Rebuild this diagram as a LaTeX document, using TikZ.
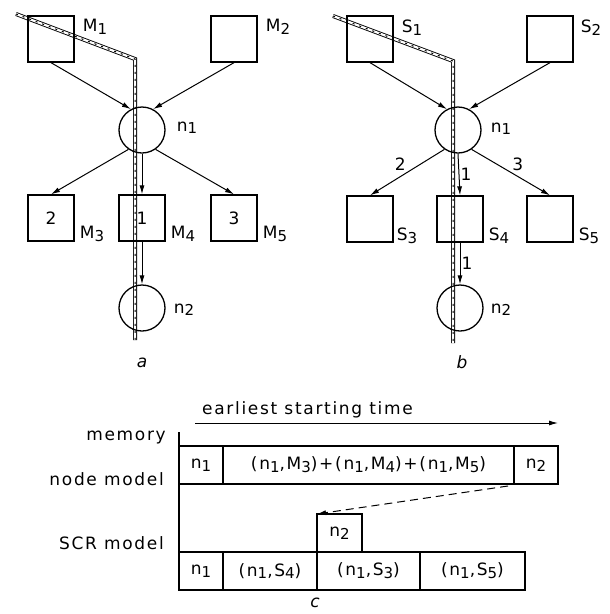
\documentclass[tikz,border=0pt]{standalone}
\usepackage{fontspec}
\setmainfont[LetterSpace=10]{DejaVu Sans}
\usetikzlibrary{arrows.meta, positioning, calc}
\newcommand{\ix}[1]{\raisebox{-0.3ex}{\fontsize{15}{15}\selectfont #1}}

\begin{document}
\begin{tikzpicture}[
    x=1pt, y=-1pt,
    every node/.style={font=\fontsize{17}{20}\selectfont},
    store/.style={draw, line width=1.3pt, minimum size=46pt, inner sep=0pt},
    task/.style={draw, circle, line width=1.3pt, minimum size=46pt, inner sep=0pt},
    tag/.style={anchor=base west, inner sep=0pt},
    plain/.style={inner sep=0pt},
    link/.style={-{Latex[length=9pt, width=5pt]}, line width=1pt},
    crit/.style={double, double distance=2.2pt, line width=0.9pt},
    critdash/.style={line width=1pt, dash pattern=on 2pt off 5pt},
    cell/.style={draw, line width=1.3pt, minimum height=38pt, inner sep=0pt, outer sep=0pt, anchor=west},
    weight/.style={inner sep=1pt}
]
\useasboundingbox (0,0) rectangle (610,614);

\coordinate (pa0) at (16,14);
\coordinate (pa1) at (135,59);
\coordinate (pa2) at (135,340);
\draw[crit] (pa0) -- (pa1) -- (pa2);
\draw[critdash] (pa0) -- (pa1) -- (pa2);

\node[store] (m1) at (51,39) {};
\node[store] (m2) at (234,39) {};
\node[task] (n1a) at (142,130) {};
\node[store] (m3) at (51,218) {2};
\node[store] (m4) at (142,218) {1};
\node[store] (m5) at (234,218) {3};
\node[task] (n2a) at (142,308) {};
\node[tag] (lm1) at ([xshift=8pt, yshift=-16pt]m1.north east) {M\ix{1}};
\node[tag] (lm2) at ([xshift=8pt, yshift=-16pt]m2.north east) {M\ix{2}};
\node[tag] (lm3) at ([xshift=5pt, yshift=3pt]m3.south east) {M\ix{3}};
\node[tag] (lm4) at ([xshift=5pt, yshift=3pt]m4.south east) {M\ix{4}};
\node[tag] (lm5) at ([xshift=5pt, yshift=3pt]m5.south east) {M\ix{5}};
\node[tag] (ln1a) at ([xshift=11pt, yshift=-1pt]n1a.east) {n\ix{1}};
\node[tag] (ln2a) at ([xshift=8pt, yshift=-5pt]n2a.east) {n\ix{2}};
\draw[link] (m1.south) -- (n1a.118);
\draw[link] (m2.south) -- (n1a.62);
\draw[link] (n1a.235) -- (m3.north);
\draw[link] (n1a.south) -- (m4.north);
\draw[link] (n1a.305) -- (m5.north);
\draw[link] (m4.south) -- (n2a.north);
\node[plain] (capa) at (142,363) {\itshape a};

\coordinate (pb0) at (333,16);
\coordinate (pb1) at (453,61);
\coordinate (pb2) at (453,343);
\draw[crit] (pb0) -- (pb1) -- (pb2);
\draw[critdash] (pb0) -- (pb1) -- (pb2);

\node[store] (s1) at (370,39) {};
\node[store] (s2) at (550,39) {};
\node[task] (n1b) at (458,130) {};
\node[store] (s3) at (370,219) {};
\node[store] (s4) at (460,219) {};
\node[store] (s5) at (550,219) {};
\node[task] (n2b) at (460,308) {};
\node[tag] (ls1) at ([xshift=8pt, yshift=-17pt]s1.north east) {S\ix{1}};
\node[tag] (ls2) at ([xshift=7pt, yshift=-17pt]s2.north east) {S\ix{2}};
\node[tag] (ls3) at ([xshift=3pt, yshift=2pt]s3.south east) {S\ix{3}};
\node[tag] (ls4) at ([xshift=5pt, yshift=2pt]s4.south east) {S\ix{4}};
\node[tag] (ls5) at ([xshift=5pt, yshift=2pt]s5.south east) {S\ix{5}};
\node[tag] (ln1b) at ([xshift=9pt, yshift=-2pt]n1b.east) {n\ix{1}};
\node[tag] (ln2b) at ([xshift=7pt, yshift=-5pt]n2b.east) {n\ix{2}};
\draw[link] (s1.south) -- (n1b.118);
\draw[link] (s2.south) -- (n1b.62);
\draw[link] (n1b.235) -- node[weight, above left] (w3) {2} (s3.north);
\draw[link] (n1b.south) -- node[weight, right] (w4) {1} (s4.north);
\draw[link] (n1b.305) -- node[weight, above right] (w5) {3} (s5.north);
\draw[link] (s4.south) -- node[weight, right] (w2) {1} (n2b.north);
\node[plain] (capb) at (462,362) {\itshape b};

\node[plain, anchor=west] (est) at (202,410) {earliest starting time};
\coordinate (t0) at (195,423);
\coordinate (t1) at (558,423);
\draw[link] (t0) -- (t1);

\node[plain, anchor=base east] (lmem) at (166,440) {memory};
\node[plain, anchor=base east] (lnode) at (164,485) {node model};
\node[plain, anchor=base east] (lscr) at (164,549) {SCR model};

\coordinate (ax0) at (179,432);
\coordinate (ax1) at (179,590);
\draw[line width=1.3pt] (ax0) -- (ax1);

\node[cell, minimum width=44pt, anchor=north west] (tn1) at (179,446) {n\ix{1}};
\node[cell, minimum width=291pt, right=0pt of tn1] (tmix) {(n\ix{1},M\ix{3})+(n\ix{1},M\ix{4})+(n\ix{1},M\ix{5})};
\node[cell, minimum width=44pt, right=0pt of tmix] (tn2) {n\ix{2}};

\node[cell, minimum width=44pt, anchor=north west] (bn1) at (179,552) {n\ix{1}};
\node[cell, minimum width=94pt, right=0pt of bn1] (bs4) {(n\ix{1},S\ix{4})};
\node[cell, minimum width=103pt, right=0pt of bs4] (bs3) {(n\ix{1},S\ix{3})};
\node[cell, minimum width=105pt, right=0pt of bs3] (bs5) {(n\ix{1},S\ix{5})};
\node[cell, minimum width=45pt, anchor=south west] (fn2) at (bs3.north west) {n\ix{2}};

\draw[link, dash pattern=on 8pt off 5pt] ([xshift=-6pt, yshift=-2pt]tn2.south west) -- (fn2.north west);
\node[plain] (capc) at (315,603) {\itshape c};
\end{tikzpicture}
\end{document}
